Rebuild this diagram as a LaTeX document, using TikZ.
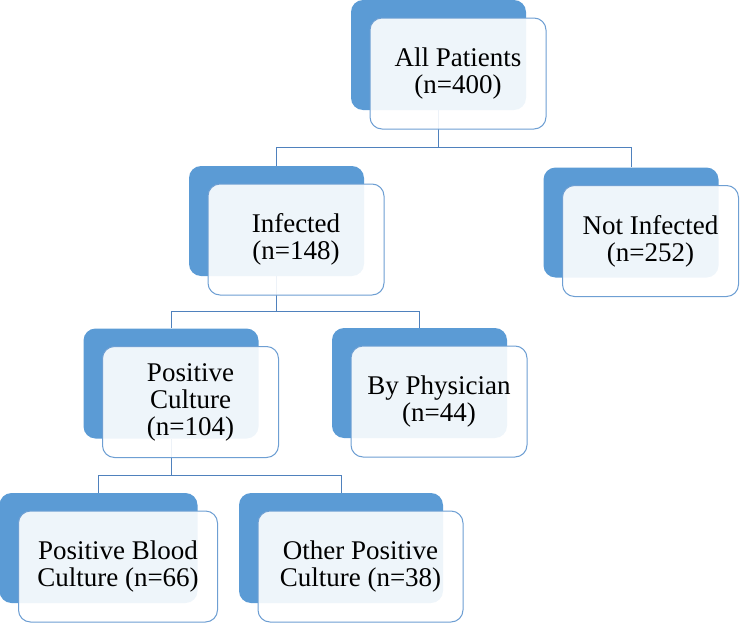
\documentclass[tikz,border=0pt]{standalone}
\usepackage{fontspec}
\setmainfont{Liberation Serif}
\usetikzlibrary{positioning,calc}
\definecolor{boxblue}{HTML}{5B9BD5}
\definecolor{edgeblue}{HTML}{6E9FD3}
\definecolor{linkblue}{HTML}{4F81BD}
\pgfdeclarelayer{bg}
\pgfsetlayers{bg,main}

\begin{document}
\begin{tikzpicture}[x=1pt,y=-1pt,node distance=18.5pt and 19.5pt,
   back/.style={fill=boxblue,rounded corners=12pt,minimum width=175pt,minimum height=110pt,inner sep=0pt},
   front/.style={draw=edgeblue,line width=1pt,fill=white,fill opacity=0.9,text opacity=1,rounded corners=12pt,
      minimum width=176pt,minimum height=111pt,inner sep=0pt,align=center,on grid,font=\rmfamily\fontsize{27}{27}\selectfont},
   link/.style={draw=linkblue,line width=1pt}]
   \useasboundingbox (0,0) rectangle (740,624);
   % level 1
   \node[back] (allB) at (438.5,55) {};
   \node[front] (all) [below right=of allB] {All Patients\\(n=400)};
   % level 2
   \node[back] (infB) at (276.5,221) {};
   \node[front] (inf) [below right=of infB] {Infected\\(n=148)};
   \node[back] (notB) at (631,222.5) {};
   \node[front] (not) [below right=of notB] {Not Infected\\(n=252)};
   % level 3
   \node[back] (cultB) at (171,383.5) {};
   \node[front] (cult) [below right=of cultB] {Positive\\Culture\\(n=104)};
   \node[back] (physB) at (419.5,383) {};
   \node[front] (phys) [below right=of physB] {By Physician\\(n=44)};
   % level 4
   \node[back,minimum width=198pt] (bloodB) at (98.5,548) {};
   \node[front,minimum width=199pt] (blood) [below right=of bloodB] {Positive Blood\\Culture (n=66)};
   \node[back,minimum width=204pt] (otherB) at (341,548) {};
   \node[front,minimum width=205pt] (other) [below right=of otherB] {Other Positive\\Culture (n=38)};
   \begin{pgfonlayer}{bg}
   \coordinate (j1) at ($(all.south)!0.5!(infB.north)$);
   \coordinate (j2) at ($(inf.south)!0.5!(cultB.north)$);
   \coordinate (j3) at ($(cult.south)!0.5!(bloodB.north)$);
   \draw[link] (allB.south) -- (allB.south |- j1) -| (infB.north);
   \draw[link] (allB.south |- j1) -| (notB.north);
   \draw[link] (infB.south) -- (infB.south |- j2) -| (cultB.north);
   \draw[link] (infB.south |- j2) -| (physB.north);
   \draw[link] (cultB.south) -- (cultB.south |- j3) -| (bloodB.north);
   \draw[link] (cultB.south |- j3) -| (otherB.north);
   \end{pgfonlayer}
\end{tikzpicture}
\end{document}
